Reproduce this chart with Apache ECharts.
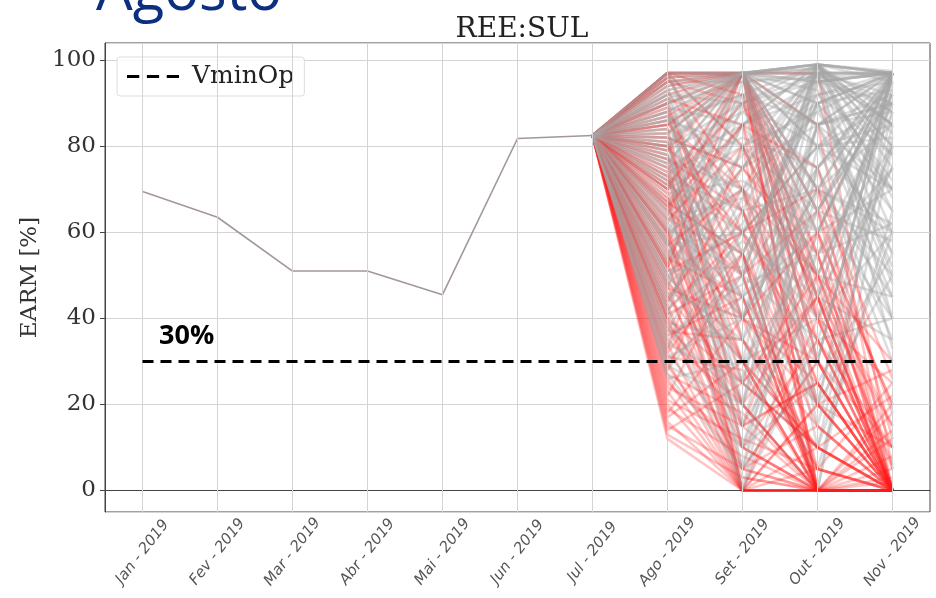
<!DOCTYPE html>
<html>
<head>
<meta charset="utf-8">
<script src="https://cdn.jsdelivr.net/npm/echarts@6/dist/echarts.min.js"></script>
<style>
  html, body { margin: 0; padding: 0; background: #fff; }
  #chart { width: 936px; height: 598px; }
</style>
</head>
<body>
<div id="chart"></div>
<script>
// Months on the horizontal axis
const months = ['Jan - 2019', 'Fev - 2019', 'Mar - 2019', 'Abr - 2019', 'Mai - 2019', 'Jun - 2019',
                'Jul - 2019', 'Ago - 2019', 'Set - 2019', 'Out - 2019', 'Nov - 2019'];

// Observed EARM (%) from Jan to Jul
const observed = [69.5, 63.5, 51, 51, 45.5, 81.8, 82.5];

// Operating minimum (%)
const vminOp = 30;

// Forecast scenarios [Ago, Set, Out, Nov] ending below the minimum in Nov
const scenariosBelow = [
  [12, 0, 0, 0], [15, 5, 0, 0], [20, 0, 0, 0], [25, 10, 0, 0], [30, 0, 5, 0],
  [35, 20, 0, 0], [40, 0, 0, 0], [45, 25, 10, 0], [50, 30, 0, 0], [55, 15, 0, 5],
  [60, 40, 20, 0], [65, 50, 0, 0], [70, 35, 15, 0], [75, 60, 30, 10], [80, 45, 0, 0],
  [85, 70, 40, 0], [90, 97, 50, 15], [97, 97, 60, 20], [95, 90, 45, 0], [97, 97, 30, 0],
  [18, 40, 25, 0], [22, 55, 20, 10], [28, 65, 35, 0], [33, 80, 40, 25], [38, 5, 30, 0],
  [42, 60, 0, 0], [48, 0, 20, 28], [52, 75, 55, 0], [58, 20, 45, 15], [62, 85, 0, 0],
  [68, 0, 0, 20], [72, 50, 65, 0], [78, 25, 10, 0], [83, 97, 70, 0], [88, 35, 5, 25],
  [93, 65, 25, 0], [97, 80, 0, 0], [14, 25, 50, 5], [26, 0, 40, 0], [36, 45, 0, 12],
  [46, 10, 0, 0], [56, 0, 0, 0], [66, 30, 0, 8], [76, 10, 35, 0], [86, 55, 0, 0],
  [96, 97, 85, 0], [24, 15, 60, 20], [44, 70, 50, 30], [64, 97, 0, 0], [92, 97, 97, 5],
  [13, 3, 0, 0], [16, 0, 10, 0], [19, 8, 0, 2], [21, 12, 5, 0], [23, 0, 0, 0],
  [27, 18, 0, 0], [29, 5, 15, 0], [31, 28, 0, 3], [34, 0, 0, 0], [37, 35, 10, 0],
  [39, 15, 25, 0], [41, 50, 5, 0], [43, 3, 0, 18], [47, 40, 30, 0], [49, 20, 0, 0],
  [51, 60, 35, 10], [53, 5, 0, 0], [54, 45, 0, 0], [57, 70, 25, 0], [59, 30, 10, 22],
  [61, 10, 0, 0], [63, 80, 45, 0], [67, 55, 15, 0], [69, 20, 0, 0], [71, 90, 55, 0],
  [73, 40, 0, 14], [74, 0, 0, 0], [77, 65, 20, 0], [79, 97, 45, 0], [81, 30, 0, 0],
  [82, 75, 50, 6], [84, 15, 25, 0], [87, 97, 40, 0], [89, 50, 0, 0], [91, 85, 35, 0],
  [94, 97, 55, 10], [96, 70, 5, 0], [97, 97, 48, 0], [97, 92, 42, 0], [95, 97, 65, 18],
  [17, 30, 10, 0], [32, 55, 0, 0], [52, 97, 30, 0], [70, 97, 20, 0], [85, 97, 0, 0],
  [60, 0, 20, 0], [40, 25, 45, 0], [80, 60, 70, 26], [90, 40, 60, 0], [66, 85, 75, 12]
];

// Forecast scenarios [Ago, Set, Out, Nov] staying above the minimum in Nov
const scenariosAbove = [
  [97, 97, 99, 97.5], [95, 97, 98, 90], [90, 95, 97, 85], [85, 97, 95, 97], [80, 90, 99, 75],
  [75, 85, 92, 95], [70, 80, 88, 65], [65, 97, 97, 97], [60, 70, 99, 80], [55, 75, 85, 55],
  [50, 60, 80, 90], [45, 65, 70, 45], [40, 55, 90, 70], [35, 50, 75, 35], [30, 45, 60, 97],
  [97, 60, 80, 60], [92, 40, 70, 50], [88, 20, 65, 40], [82, 10, 55, 80], [78, 0, 50, 92],
  [72, 30, 40, 60], [68, 5, 30, 97], [62, 45, 20, 50], [58, 25, 10, 85], [52, 15, 45, 75],
  [48, 35, 5, 65], [42, 0, 35, 40], [38, 20, 0, 95], [32, 10, 25, 55], [97, 80, 45, 35],
  [94, 97, 60, 70], [87, 75, 97, 40], [84, 65, 20, 97], [77, 50, 99, 88], [73, 92, 10, 60],
  [67, 88, 75, 30], [63, 55, 0, 80], [57, 97, 50, 45], [53, 85, 95, 97], [47, 95, 85, 70],
  [43, 80, 65, 92], [96, 97, 97, 97], [91, 97, 93, 50], [86, 92, 99, 97], [81, 97, 85, 90],
  [97, 97, 40, 75], [79, 70, 30, 97], [71, 60, 97, 33], [61, 40, 85, 97], [26, 30, 55, 90],
  [97, 97, 97, 92], [96, 97, 99, 95], [95, 95, 96, 97], [93, 97, 99, 85], [92, 90, 95, 97],
  [90, 97, 98, 78], [89, 85, 99, 97], [88, 97, 90, 93], [86, 80, 97, 88], [85, 92, 85, 97],
  [83, 97, 99, 65], [82, 75, 92, 97], [80, 97, 80, 82], [79, 88, 97, 55], [77, 70, 88, 97],
  [76, 97, 95, 72], [74, 82, 75, 90], [73, 65, 99, 97], [71, 97, 70, 60], [70, 90, 97, 85],
  [69, 72, 60, 97], [67, 55, 92, 78], [66, 97, 85, 45], [64, 85, 99, 97], [63, 68, 50, 88],
  [61, 50, 97, 70], [60, 97, 65, 92], [59, 78, 90, 52], [57, 60, 80, 97], [56, 45, 99, 83],
  [54, 92, 70, 97], [53, 70, 55, 62], [51, 52, 95, 90], [49, 85, 60, 97], [48, 62, 90, 48],
  [46, 40, 75, 95], [44, 75, 99, 68], [42, 58, 45, 97], [41, 90, 80, 85], [39, 35, 65, 58],
  [37, 68, 97, 97], [36, 48, 55, 75], [34, 25, 85, 92], [33, 60, 40, 97], [31, 40, 70, 62],
  [29, 20, 90, 97], [28, 50, 35, 80], [27, 5, 60, 95], [97, 55, 90, 97], [94, 35, 85, 88],
  [91, 15, 75, 97], [87, 50, 99, 80], [84, 25, 95, 97], [81, 5, 80, 70], [78, 40, 97, 97],
  [75, 10, 70, 85], [72, 45, 65, 97], [65, 20, 85, 90], [58, 0, 75, 97], [50, 30, 99, 85],
  [97, 97, 70, 97], [95, 97, 50, 90], [93, 97, 30, 97], [92, 97, 15, 82], [90, 97, 80, 40],
  [88, 97, 65, 97], [86, 97, 99, 60], [83, 97, 45, 97], [80, 97, 20, 88], [76, 97, 90, 97]
];

const serif = '"DejaVu Serif", "Liberation Serif", serif';

// Prefix each scenario with the last observed month so it starts in Jul
function scenarioRow(values) {
  const row = observed.map(() => null);
  row[observed.length - 1] = observed[observed.length - 1];
  return row.concat(values);
}

function scenarioLine(values, color, opacity) {
  return {
    type: 'line',
    data: scenarioRow(values),
    symbol: 'none',
    silent: true,
    animation: false,
    lineStyle: { color: color, width: 2.6, opacity: opacity },
    z: 2
  };
}

// Interleave both groups so neither colour is painted entirely on top
const series = [];
const nScen = Math.max(scenariosBelow.length, scenariosAbove.length);
for (let i = 0; i < nScen; i++) {
  if (i < scenariosBelow.length) series.push(scenarioLine(scenariosBelow[i], '#ff1a1a', 0.26));
  if (i < scenariosAbove.length) series.push(scenarioLine(scenariosAbove[i], '#a5a5a5', 0.38));
}

// Observed trajectory, with vertical grid lines at each month
series.push({
  type: 'line',
  data: observed,
  symbol: 'none',
  silent: true,
  animation: false,
  lineStyle: { color: '#a3979a', width: 1.6 },
  z: 3,
  markLine: {
    silent: true,
    symbol: 'none',
    animation: false,
    label: { show: false },
    lineStyle: { color: '#d4d4d4', width: 1, type: 'solid' },
    data: months.map(m => ({ xAxis: m }))
  }
});

// Operating minimum line
series.push({
  name: 'VminOp',
  type: 'line',
  data: months.map(() => vminOp),
  symbol: 'none',
  silent: true,
  animation: false,
  lineStyle: { color: '#000', width: 3, type: [11, 7] },
  z: 5
});

const chart = echarts.init(document.getElementById('chart'));
chart.setOption({
  animation: false,
  backgroundColor: '#fff',
  title: {
    text: 'REE:SUL',
    left: 517,
    top: 11,
    textAlign: 'center',
    textStyle: { fontFamily: serif, fontSize: 28, fontWeight: 'normal', color: '#222' }
  },
  legend: {
    data: [{ name: 'VminOp', icon: 'path://M0,0 L8,0 L8,2 L0,2 Z M13,0 L21,0 L21,2 L13,2 Z M26,0 L34,0 L34,2 L26,2 Z' }],
    left: 117,
    top: 57,
    padding: [7, 10, 7, 10],
    itemWidth: 52,
    itemHeight: 4,
    itemGap: 10,
    borderColor: '#ddd',
    borderWidth: 1,
    borderRadius: 3,
    backgroundColor: 'rgba(255,255,255,0.85)',
    itemStyle: { color: '#000' },
    textStyle: { fontFamily: serif, fontSize: 25, color: '#222', padding: [0, 0, 0, 8] }
  },
  grid: {
    left: 105, right: 6, top: 43, bottom: 86,
    show: true,
    borderColor: '#444',
    borderWidth: 1,
    containLabel: false
  },
  xAxis: {
    type: 'category',
    data: months,
    boundaryGap: true,
    axisLine: { show: true, lineStyle: { color: '#444' } },
    axisTick: { show: true, alignWithLabel: true, length: 5, lineStyle: { color: '#444' } },
    splitLine: { show: false },
    axisLabel: {
      interval: 0,
      rotate: 52,
      margin: 40,
      align: 'center',
      verticalAlign: 'middle',
      fontFamily: '"DejaVu Sans", sans-serif',
      fontStyle: 'oblique',
      fontSize: 15,
      color: '#555'
    }
  },
  yAxis: {
    type: 'value',
    min: -5,
    max: 104,
    splitNumber: 5,
    name: 'EARM [%]',
    nameLocation: 'middle',
    nameGap: 60,
    nameRotate: 90,
    nameTextStyle: { fontFamily: serif, fontSize: 23, color: '#333' },
    axisLine: { show: true, lineStyle: { color: '#444' } },
    axisTick: { show: true, length: 5, lineStyle: { color: '#444' } },
    axisLabel: {
      showMinLabel: false,
      showMaxLabel: false,
      fontFamily: serif,
      fontSize: 23,
      color: '#333',
      margin: 9
    },
    splitLine: { show: true, lineStyle: { color: '#d4d4d4', width: 1 } }
  },
  graphic: [
    {
      type: 'text',
      left: 96,
      top: -36,
      style: {
        text: 'Agosto',
        font: '58px "Open Sans", "Noto Sans", sans-serif',
        fill: '#0d2f80'
      },
      z: 10
    },
    {
      type: 'text',
      left: 159,
      top: 323,
      style: {
        text: '30%',
        font: 'bold 27px "Open Sans", "Noto Sans", sans-serif',
        fill: '#000'
      },
      z: 10
    }
  ],
  series: series
});
</script>
</body>
</html>
